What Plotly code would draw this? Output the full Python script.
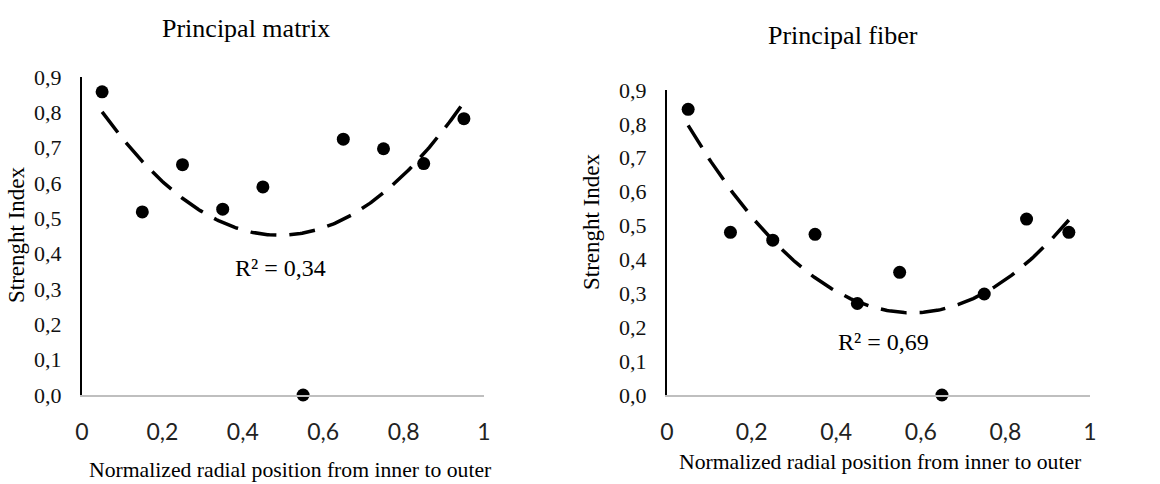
import numpy as np
import plotly.graph_objects as go

W, H = 1160, 484

# ---- data ----
positions = [0.05, 0.15, 0.25, 0.35, 0.45, 0.55, 0.65, 0.75, 0.85, 0.95]
matrix_values = [0.858, 0.518, 0.652, 0.526, 0.589, 0.0, 0.724, 0.697, 0.655, 0.782]
fiber_values = [0.843, 0.480, 0.457, 0.474, 0.270, 0.362, 0.0, 0.298, 0.519, 0.480]
titles = ["Principal matrix", "Principal fiber"]
r2_labels = ["R² = 0,34", "R² = 0,69"]
y_tickvals = [0.0, 0.1, 0.2, 0.3, 0.4, 0.5, 0.6, 0.7, 0.8, 0.9]
y_ticktext = ["0,0", "0,1", "0,2", "0,3", "0,4", "0,5", "0,6", "0,7", "0,8", "0,9"]
x_tickvals = [0, 0.2, 0.4, 0.6, 0.8, 1.0]
x_ticktext = ["0", "0,2", "0,4", "0,6", "0,8", "1"]
x_title = "Normalized radial position from inner to outer"
y_title = "Strenght Index"


def px(x):
    return x / W


def py(y):
    return 1 - y / H


SERIF = "Liberation Serif, Times New Roman, serif"
SANS = "Lato, Liberation Sans, sans-serif"

fig = go.Figure()

series = [matrix_values, fiber_values]
axes = [("x", "y"), ("x2", "y2")]
xs_fit = np.linspace(positions[0], positions[-1], 200)
for vals, (xa, ya) in zip(series, axes):
    coef = np.polyfit(positions, vals, 2)
    fig.add_trace(go.Scatter(
        x=xs_fit, y=np.polyval(coef, xs_fit), mode="lines",
        line=dict(color="black", width=3.5, dash="26px,13px"),
        xaxis=xa, yaxis=ya, showlegend=False, hoverinfo="skip",
        cliponaxis=False))
    fig.add_trace(go.Scatter(
        x=positions, y=vals, mode="markers",
        marker=dict(color="black", size=13),
        xaxis=xa, yaxis=ya, showlegend=False, cliponaxis=False))

common_x = dict(range=[0, 1], tickvals=x_tickvals, ticktext=x_ticktext,
                showgrid=False, zeroline=False, showline=True,
                linecolor="#BFBFBF", linewidth=2, ticks="",
                automargin=False,
                tickfont=dict(family=SANS, size=23, color="#222"),
                ticklabelstandoff=15)
common_y = dict(range=[0, 0.9], tickvals=y_tickvals, ticktext=y_ticktext,
                showgrid=False, zeroline=False, showline=True,
                linecolor="black", linewidth=2, ticks="",
                automargin=False,
                tickfont=dict(family=SERIF, size=22, color="#111"),
                ticklabelstandoff=14)

fig.update_layout(
    template="none",
    width=W, height=H,
    margin=dict(l=0, r=0, t=0, b=0, autoexpand=False),
    paper_bgcolor="white", plot_bgcolor="white",
    xaxis=dict(domain=[px(82), px(484)], anchor="y", **common_x),
    yaxis=dict(domain=[py(395), py(77)], anchor="x", **common_y),
    xaxis2=dict(domain=[px(667), px(1090)], anchor="y2", **common_x),
    yaxis2=dict(domain=[py(395), py(90)], anchor="x2", **common_y),
)

ann = []
# titles
ann.append(dict(text=titles[0], x=px(246), y=py(29), font=dict(family=SERIF, size=26, color="black")))
ann.append(dict(text=titles[1], x=px(843), y=py(36), font=dict(family=SERIF, size=26, color="black")))
# R2
ann.append(dict(text=r2_labels[0], x=px(280), y=py(268), font=dict(family=SERIF, size=24, color="black")))
ann.append(dict(text=r2_labels[1], x=px(883), y=py(342), font=dict(family=SERIF, size=24, color="black")))
# x titles
ann.append(dict(text=x_title, x=px(291), y=py(470), font=dict(family=SERIF, size=21.7, color="black")))
ann.append(dict(text=x_title, x=px(880), y=py(462), font=dict(family=SERIF, size=21.7, color="black")))
# y titles
ann.append(dict(text=y_title, x=px(16), y=py(235), textangle=-90, font=dict(family=SERIF, size=23, color="black")))
ann.append(dict(text=y_title, x=px(591), y=py(222), textangle=-90, font=dict(family=SERIF, size=23, color="black")))

for a in ann:
    a.update(xref="paper", yref="paper", showarrow=False, xanchor="center", yanchor="middle")
fig.update_layout(annotations=ann)

fig.write_html("out.html")
